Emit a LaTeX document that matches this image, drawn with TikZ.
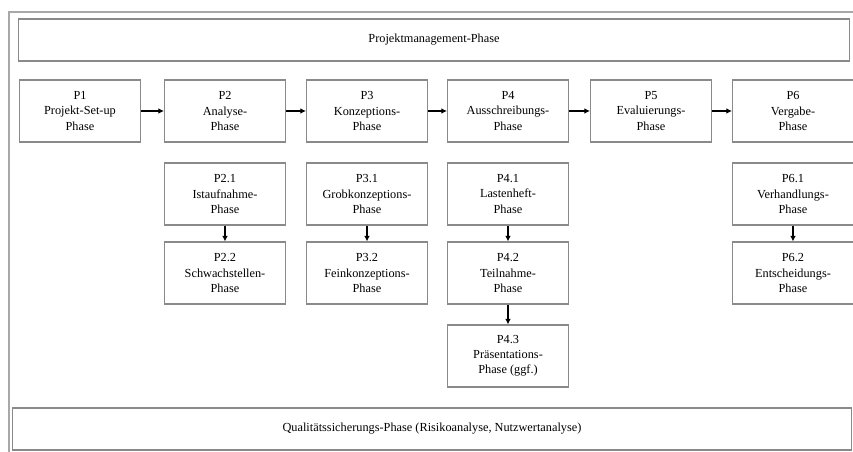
\documentclass[tikz,border=0pt]{standalone}
\usepackage{fontspec}
\setmainfont{Liberation Serif}
\usetikzlibrary{arrows.meta}
\definecolor{cframe}{HTML}{A8A8A8}
\definecolor{cbox}{HTML}{8A8A8A}
\tikzset{
  every picture/.style={>=Latex, font=\fontsize{7}{8.6}\selectfont},
  phase/.style={draw=cbox, line width=0.6pt, fill=white, align=center,
    minimum width=2.42cm, minimum height=1.24cm, inner sep=1pt},
  band/.style={draw=cbox, line width=0.6pt, fill=white, align=center,
    minimum height=0.84cm, inner sep=1pt},
  flow/.style={->, line width=0.6pt, >={Latex[length=3.2pt,width=3.2pt]}},
}
% pixel grid of the reference: 1 unit = 1px
\def\ra{111}
\def\rb{194}
\def\rc{273}
\def\rd{356}
\begin{document}
\begin{tikzpicture}[x=0.02cm, y=-0.02cm]
  \useasboundingbox (0,0) rectangle (853,452);
  \draw[cframe, line width=1.2pt] (9,12) rectangle (870,470);
  % bands
  \node[band, minimum width=16.64cm] (pm) at (434,40) {Projektmanagement-Phase};
  \node[band, minimum width=16.8cm] (qs) at (432,429)
    {Qualitätssicherungs-Phase (Risikoanalyse, Nutzwertanalyse)};
  % main phases
  \node[phase] (p1) at (80,\ra)  {P1\\Projekt-Set-up\\Phase};
  \node[phase] (p2) at (225,\ra) {P2\\Analyse-\\Phase};
  \node[phase] (p3) at (367,\ra) {P3\\Konzeptions-\\Phase};
  \node[phase] (p4) at (508,\ra) {P4\\Ausschreibungs-\\Phase};
  \node[phase] (p5) at (651,\ra) {P5\\Evaluierungs-\\Phase};
  \node[phase] (p6) at (793,\ra) {P6\\Vergabe-\\Phase};
  % sub phases
  \node[phase] (p21) at (225,\rb) {P2.1\\Istaufnahme-\\Phase};
  \node[phase] (p22) at (225,\rc) {P2.2\\Schwachstellen-\\Phase};
  \node[phase] (p31) at (367,\rb) {P3.1\\Grobkonzeptions-\\Phase};
  \node[phase] (p32) at (367,\rc) {P3.2\\Feinkonzeptions-\\Phase};
  \node[phase] (p41) at (508,\rb) {P4.1\\Lastenheft-\\Phase};
  \node[phase] (p42) at (508,\rc) {P4.2\\Teilnahme-\\Phase};
  \node[phase] (p43) at (508,\rd) {P4.3\\Präsentations-\\Phase (ggf.)};
  \node[phase] (p61) at (793,\rb) {P6.1\\Verhandlungs-\\Phase};
  \node[phase] (p62) at (793,\rc) {P6.2\\Entscheidungs-\\Phase};
  % connectors
  \foreach \a/\b in {p1/p2, p2/p3, p3/p4, p4/p5, p5/p6}
    \draw[flow] (\a) -- (\b);
  \foreach \a/\b in {p21/p22, p31/p32, p41/p42, p42/p43, p61/p62}
    \draw[flow] (\a) -- (\b);
\end{tikzpicture}
\end{document}
